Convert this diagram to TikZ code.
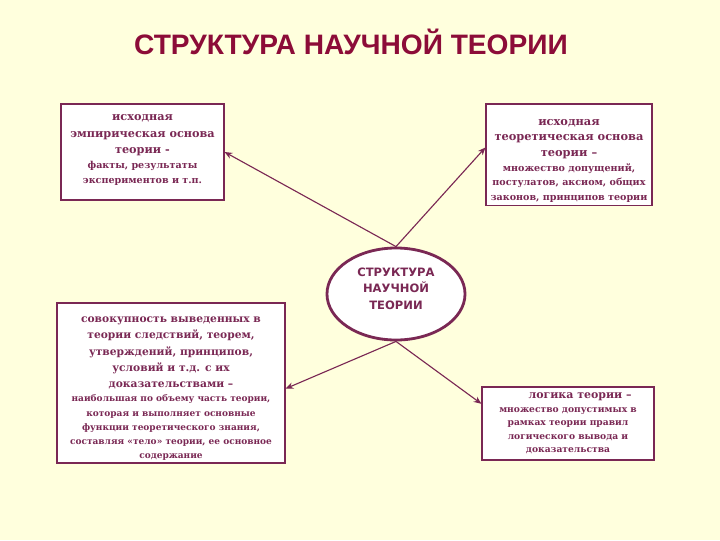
\documentclass[tikz,border=0pt]{standalone}
\usepackage{fontspec}
\setmainfont{DejaVu Serif}
\setsansfont{DejaVu Sans}
\newfontfamily\titlefont{Liberation Sans}
\usepackage{tikz}
\usetikzlibrary{shapes.geometric, arrows.meta, positioning, calc}
\definecolor{mybg}{RGB}{255,255,221}
\definecolor{mytitle}{RGB}{140,12,56}
\definecolor{mymaroon}{RGB}{122,40,84}
\newcommand{\smtxt}{\fontsize{6.8}{9.6}\selectfont}
\newcommand{\tntxt}{\fontsize{6.4}{9.6}\selectfont}
\newcommand{\drop}[1]{\rule{0pt}{#1}}
\newcommand{\lift}[1]{\rule[-#1]{0pt}{#1}}
\tikzset{
  block/.style={rectangle, draw=mymaroon, fill=white, align=center, line width=0.8pt,
    text=mymaroon, font=\fontsize{8}{10.7}\selectfont\bfseries, inner sep=2pt},
  arrow/.style={-{Stealth[length=5.5pt, width=4.5pt]}, line width=0.8pt, color=mymaroon}
}
\begin{document}
\begin{tikzpicture}[x=0.025cm, y=-0.025cm,
  core/.style={ellipse, draw=mymaroon, fill=white, line width=2pt, minimum width=3.45cm,
    minimum height=2.3cm, align=center, text=mymaroon,
    font=\sffamily\bfseries\fontsize{8.2}{11.7}\selectfont}
]
\useasboundingbox[fill=mybg] (0,0) rectangle (720,540);

%--- title ---
\node[font=\titlefont\bfseries\fontsize{20}{22}\selectfont, text=mytitle] (title) at (351,42)
  {СТРУКТУРА НАУЧНОЙ ТЕОРИИ};

%--- centre ---
\node[core] (core) at (396,294) {СТРУКТУРА\\НАУЧНОЙ\\ТЕОРИИ\lift{7.7pt}};

%--- four parts ---
\node[block, minimum width=4.075cm, minimum height=2.4cm] (emp) at (142.5,152)
  {исходная\\[0.8pt]эмпирическая основа\\[0.8pt]теории -\\\smtxt факты, результаты\\\smtxt экспериментов и т.п.\lift{4pt}};
\node[block, minimum width=4.15cm, minimum height=2.525cm, font=\fontsize{8.1}{10.4}\selectfont\bfseries] (theor) at (569,154.5)
  {\drop{13.3pt}исходная\\[0.6pt]теоретическая основа\\[0.6pt]теории –\\\smtxt множество допущений,\\\smtxt постулатов, аксиом, общих\\\smtxt законов, принципов теории};
\node[block, minimum width=5.7cm, minimum height=4cm, font=\fontsize{7.6}{10}\selectfont\bfseries] (deriv) at (171,383)
  {\drop{11.5pt}совокупность выведенных в\\[1.7pt]теории следствий, теорем,\\[1.7pt]утверждений, принципов,\\[1.7pt]условий и т.д. с их\\[1.7pt]доказательствами –\\
   \tntxt наибольшая по объему часть теории,\\\tntxt которая и выполняет основные\\\tntxt функции теоретического знания,\\
   \tntxt составляя «тело» теории, ее основное\\\tntxt содержание};
\node[block, minimum width=4.3cm, minimum height=1.825cm, font=\fontsize{7.8}{9.6}\selectfont\bfseries] (logic) at (568,423.5)
  {\hspace*{2.2em}логика теории –\\\fontsize{6.5}{9.6}\selectfont множество допустимых в\\\fontsize{6.5}{9.6}\selectfont рамках теории правил\\
   \fontsize{6.5}{9.6}\selectfont логического вывода и\\\fontsize{6.5}{9.6}\selectfont доказательства};

%--- connectors ---
\draw[arrow] (core.north) -- (emp.east);
\draw[arrow] (core.north) -- ([yshift=5pt]theor.west);
\draw[arrow] (core.south) -- ([yshift=-4pt]deriv.east);
\draw[arrow] (core.south) -- ([yshift=14pt]logic.west);
\end{tikzpicture}
\end{document}
